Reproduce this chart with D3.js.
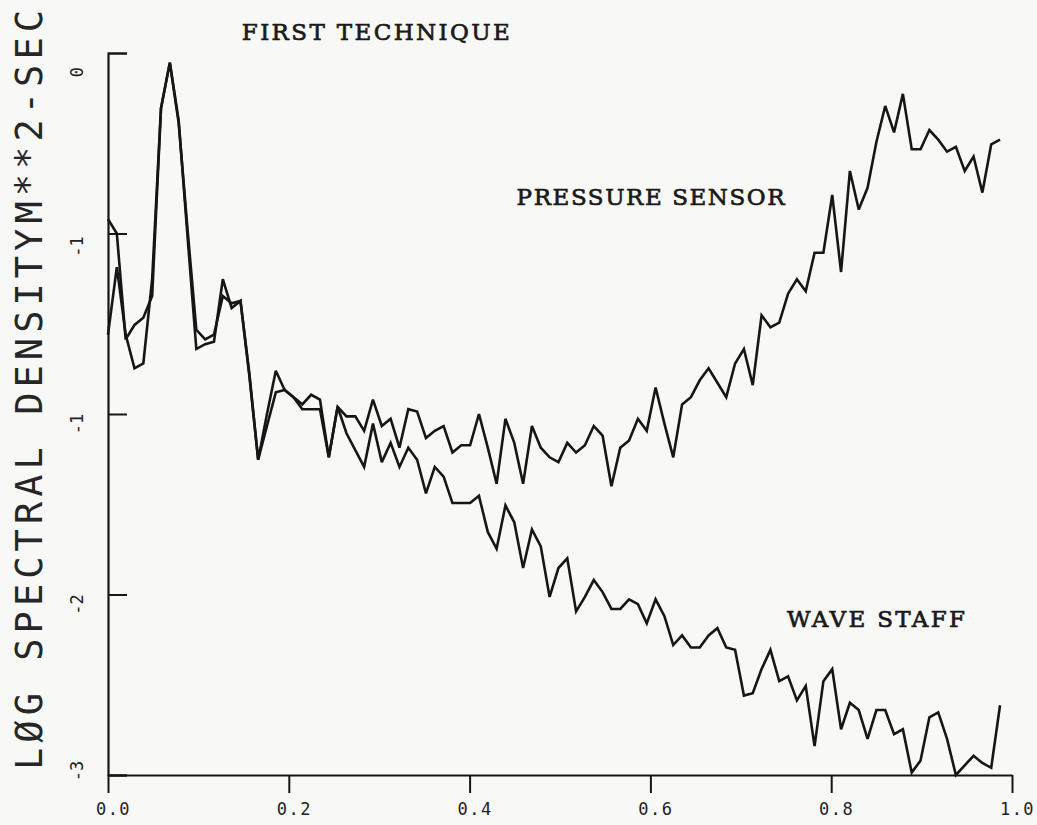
<!DOCTYPE html>
<html>
<head>
<meta charset="utf-8">
<script src="https://cdn.jsdelivr.net/npm/d3@7"></script>
<style>
  html, body { margin: 0; padding: 0; background: #f8f8f6; }
  svg { display: block; }
</style>
</head>
<body>
<svg id="chart" width="1037" height="825"></svg>
<script>
// Log spectral density (log10 m^2-sec) vs frequency, two sensors, first technique.
const freqStep = 0.00977;

const pressureSensor = [
  -0.69, -0.75, -1.19, -1.13, -1.10, -1.01, -0.23, -0.04, -0.28, -0.76,
  -1.23, -1.21, -1.20, -0.94, -1.06, -1.03, -1.34, -1.69, -1.50, -1.32,
  -1.40, -1.43, -1.46, -1.42, -1.44, -1.68, -1.47, -1.51, -1.51, -1.57,
  -1.44, -1.55, -1.52, -1.64, -1.48, -1.49, -1.60, -1.57, -1.55, -1.66,
  -1.63, -1.63, -1.50, -1.64, -1.79, -1.52, -1.62, -1.79, -1.55, -1.64,
  -1.68, -1.70, -1.62, -1.66, -1.63, -1.55, -1.59, -1.80, -1.64, -1.61,
  -1.52, -1.57, -1.39, -1.54, -1.68, -1.46, -1.43, -1.36, -1.31, -1.37,
  -1.43, -1.29, -1.23, -1.38, -1.09, -1.14, -1.12, -1.00, -0.94, -0.99,
  -0.83, -0.83, -0.59, -0.91, -0.49, -0.65, -0.56, -0.37, -0.22, -0.33,
  -0.17, -0.40, -0.40, -0.32, -0.36, -0.41, -0.39, -0.49, -0.43, -0.58,
  -0.38, -0.36
];

const waveStaff = [
  -1.17, -0.89, -1.17, -1.31, -1.29, -0.94, -0.23, -0.04, -0.29, -0.73,
  -1.15, -1.19, -1.17, -1.01, -1.04, -1.03, -1.33, -1.69, -1.55, -1.41,
  -1.40, -1.43, -1.48, -1.48, -1.48, -1.68, -1.47, -1.58, -1.65, -1.72,
  -1.54, -1.70, -1.62, -1.72, -1.64, -1.69, -1.83, -1.72, -1.76, -1.87,
  -1.87, -1.87, -1.84, -1.99, -2.06, -1.88, -1.95, -2.14, -1.98, -2.05,
  -2.26, -2.14, -2.10, -2.32, -2.26, -2.19, -2.24, -2.31, -2.31, -2.27,
  -2.29, -2.37, -2.27, -2.34, -2.46, -2.42, -2.47, -2.47, -2.42, -2.39,
  -2.47, -2.48, -2.67, -2.66, -2.56, -2.48, -2.61, -2.59, -2.69, -2.63,
  -2.88, -2.61, -2.56, -2.81, -2.70, -2.73, -2.85, -2.73, -2.73, -2.83,
  -2.81, -2.99, -2.94, -2.76, -2.74, -2.85, -3.00, -2.96, -2.92, -2.95,
  -2.97, -2.71
];

const xTickValues = [0, 0.2, 0.4, 0.6, 0.8, 1.0];
const xTickLabels = ["0.0", "0.2", "0.4", "0.6", "0.8", "1.0"];
const yTickValues = [0, -0.75, -1.5, -2.25, -3];
const yTickLabels = ["0", "-1", "-1", "-2", "-3"];

const yTitle = "LØG SPECTRAL DENSITYM**2-SEC";
const plotTitle = "FIRST TECHNIQUE";
const seriesNames = ["PRESSURE SENSOR", "WAVE STAFF"];

// ---------------------------------------------------------------
const svg = d3.select("#chart");
const ink = "#161616";
const plotterFont = "'DejaVu Sans Mono', monospace";
const typeFont = "'DejaVu Serif', serif";

const x = d3.scaleLinear().domain([0, 1]).range([108, 1012]);
const y = d3.scaleLinear().domain([-3, 0]).range([775, 53]);

const freq = d3.range(pressureSensor.length).map(i => i * freqStep);

// x axis, ticks hanging below the line
const xAxis = svg.append("g")
  .attr("transform", `translate(0,${y(-3)})`)
  .call(d3.axisBottom(x)
    .tickValues(xTickValues)
    .tickFormat((d, i) => xTickLabels[i])
    .tickSize(18)
    .tickSizeOuter(0));
xAxis.select(".domain").attr("stroke", ink).attr("stroke-width", 2.2);
xAxis.selectAll(".tick line").attr("stroke", ink).attr("stroke-width", 2);
xAxis.selectAll(".tick text")
  .attr("y", 40).attr("dy", 0).attr("x", 5)
  .attr("fill", "#222")
  .style("font-family", plotterFont)
  .style("font-size", "17px")
  .style("letter-spacing", "1.5px");

// y axis, ticks pointing into the plot
const yAxis = svg.append("g")
  .attr("transform", `translate(${x(0)},0)`)
  .call(d3.axisLeft(y)
    .tickValues(yTickValues)
    .tickFormat("")
    .tickSize(-19)
    .tickSizeOuter(-19));
yAxis.select(".domain").attr("stroke", ink).attr("stroke-width", 2.2);
yAxis.selectAll(".tick line").attr("stroke", ink).attr("stroke-width", 2);

// rotated y tick labels
const yLabelShift = [19, 13, 10, 10, -4];
svg.append("g").selectAll("text")
  .data(yTickValues)
  .join("text")
  .attr("transform", (d, i) => `translate(83,${y(d) + yLabelShift[i]}) rotate(-90)`)
  .attr("text-anchor", "middle")
  .attr("fill", "#222")
  .style("font-family", plotterFont)
  .style("font-size", "17px")
  .text((d, i) => yTickLabels[i]);

// y axis title
svg.append("text")
  .attr("transform", "translate(42,770) rotate(-90)")
  .attr("textLength", 760)
  .attr("lengthAdjust", "spacing")
  .attr("fill", "#262626")
  .style("font-family", plotterFont)
  .style("font-size", "37px")
  .text(yTitle);

// spectra
const line = d3.line()
  .x((d, i) => x(freq[i]))
  .y(d => y(d));

[pressureSensor, waveStaff].forEach(series => {
  svg.append("path")
    .datum(series)
    .attr("d", line)
    .attr("fill", "none")
    .attr("stroke", ink)
    .attr("stroke-width", 2.6)
    .attr("stroke-linejoin", "miter")
    .attr("stroke-miterlimit", 3);
});

// typed annotations
const notes = [
  { text: plotTitle, f: 0.148, v: 0.054, len: 268 },
  { text: seriesNames[0], f: 0.452, v: -0.632, len: 268 },
  { text: seriesNames[1], f: 0.751, v: -2.385, len: 178 }
];
svg.append("g").selectAll("text")
  .data(notes)
  .join("text")
  .attr("x", d => x(d.f))
  .attr("y", d => y(d.v))
  .attr("textLength", d => d.len)
  .attr("lengthAdjust", "spacing")
  .attr("fill", "#1a1a1a")
  .attr("stroke", "#1a1a1a")
  .attr("stroke-width", 0.7)
  .style("font-family", typeFont)
  .style("font-size", "23px")
  .text(d => d.text);
</script>
</body>
</html>
